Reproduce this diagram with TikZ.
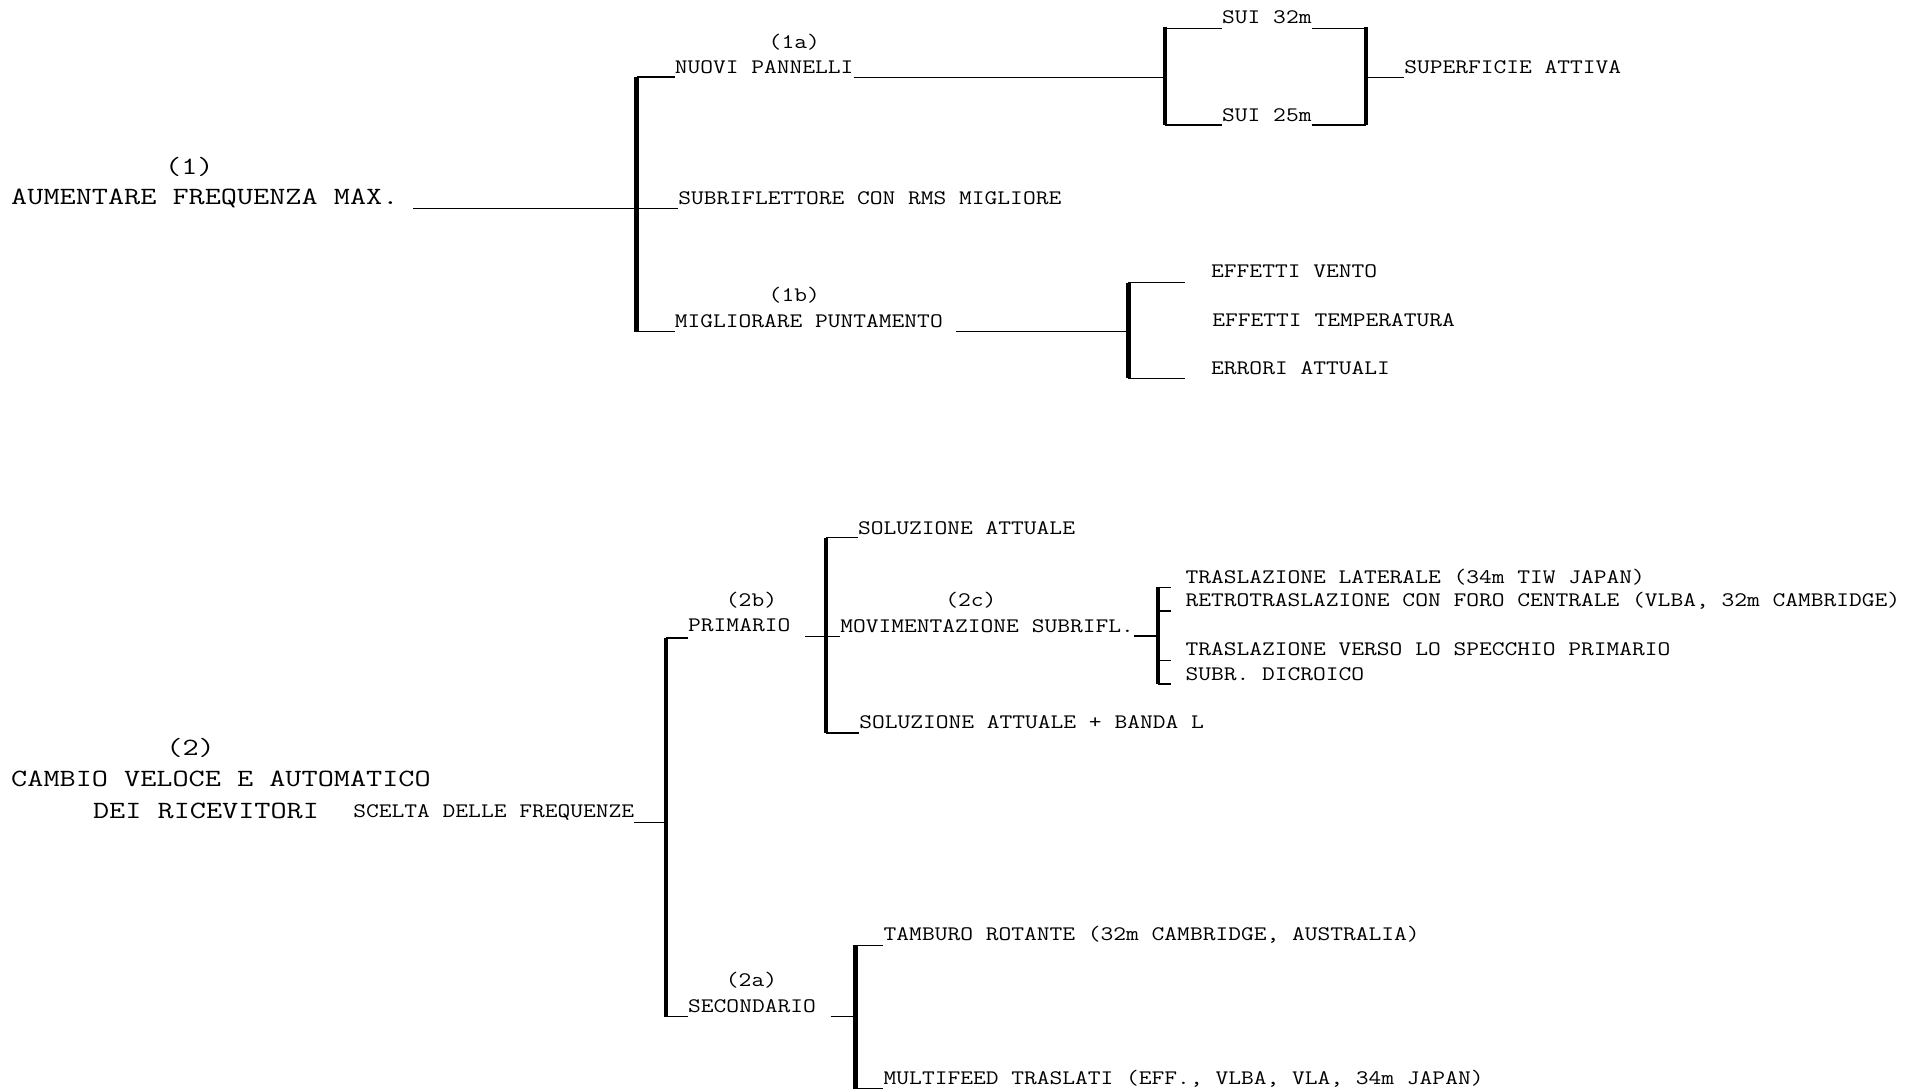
\documentclass[tikz,border=0pt]{standalone}
\usepackage{fontspec}
\newfontfamily\monoS[FakeStretch=1.200]{Latin Modern Mono}
\newfontfamily\monoB[FakeStretch=1.263]{Latin Modern Mono}
\tikzset{
  sm/.style={font=\monoS\fontsize{16.9}{20}\selectfont, inner sep=0pt, anchor=base west},
  bg/.style={font=\monoB\fontsize{20.3}{25}\selectfont, inner sep=0pt, anchor=base west},
  smlab/.style={sm, anchor=base},
  bglab/.style={bg, anchor=base},
  ln/.style={line width=1.1pt},
  barl/.style={line width=3.8pt}
}
\begin{document}
\begin{tikzpicture}[x=1pt,y=-1pt]
\useasboundingbox (0,0) rectangle (1568,893);
% ---------- part 1 ----------
\node[bglab] (l1) at (155,142.5) {(1)};
\node[bg] (t1) at (9,167.2) {AUMENTARE FREQUENZA MAX.};
\node[smlab] (l1a) at (650,40) {(1a)};
\node[sm] (nuovi) at (552,60) {NUOVI PANNELLI};
\node[sm] (subr) at (555,167.2) {SUBRIFLETTORE CON RMS MIGLIORE};
\node[smlab] (l1b) at (650,247) {(1b)};
\node[sm] (migl) at (552,267.8) {MIGLIORARE PUNTAMENTO};
\node[sm] (sui32) at (1000,19.5) {SUI 32m};
\node[sm] (sui25) at (1000,99.5) {SUI 25m};
\node[sm] (sup) at (1149,60) {SUPERFICIE ATTIVA};
\node[sm] (vento) at (991,226.9) {EFFETTI VENTO};
\node[sm] (temp) at (992,267.3) {EFFETTI TEMPERATURA};
\node[sm] (err) at (991,306.8) {ERRORI ATTUALI};

\coordinate (b1t) at (521,63);
\coordinate (b1m) at (521,170.5);
\coordinate (b1b) at (521,271.3);
\draw[barl] (b1t) -- (b1b);
\draw[ln] (b1t) -- (nuovi.west |- b1t);
\draw[ln] ([xshift=12pt]t1.east |- b1m) -- (subr.west |- b1m);
\draw[ln] (b1b) -- (migl.west |- b1b);

\coordinate (b2t) at (953.3,23.2);
\coordinate (b2m) at (953.3,63.3);
\coordinate (b2b) at (953.3,102.3);
\draw[barl] ([yshift=1.5pt]b2t) -- (b2b);
\coordinate (b3t) at (1118,23.2);
\coordinate (b3m) at (1118,63.3);
\coordinate (b3b) at (1118,102.3);
\draw[barl] ([yshift=1.5pt]b3t) -- (b3b);
\draw[ln] (nuovi.east |- b2m) -- (b2m);
\draw[ln] (b2t) -- (sui32.west |- b2t);
\draw[ln] (sui32.east |- b3t) -- (b3t);
\draw[ln] (b2b) -- (sui25.west |- b2b);
\draw[ln] (sui25.east |- b3b) -- (b3b);
\draw[ln] (b3m) -- (sup.west |- b3m);

\coordinate (b4t) at (923.4,231.3);
\coordinate (b4m) at (923.4,271.4);
\coordinate (b4b) at (923.4,309.6);
\draw[barl] (b4t) -- (b4b);
\draw[ln] ([xshift=11pt]migl.east |- b4m) -- (b4m);
\draw[ln] (b4t) -- ([xshift=-21pt]vento.west |- b4t);
\draw[ln] (b4b) -- ([xshift=-21pt]err.west |- b4b);

% ---------- part 2 ----------
\node[bglab] (l2) at (156,617.9) {(2)};
\node[bg] (t2a) at (9,643.7) {CAMBIO VELOCE E AUTOMATICO};
\node[bg] (t2b) at (76,669.7) {DEI RICEVITORI};
\node[sm] (scelta) at (289,669.4) {SCELTA DELLE FREQUENZE};

\coordinate (b5t) at (545,522);
\coordinate (b5m) at (545,673);
\coordinate (b5b) at (545,832);
\draw[barl] (b5t) -- (b5b);
\draw[ln] (scelta.east |- b5m) -- (b5m);
\node[sm] (prim) at (563,516.4) {PRIMARIO};
\node[smlab] (l2b) at (615,496) {(2b)};
\draw[ln] (b5t) -- (prim.west |- b5t);
\node[sm] (sec) at (563,828.4) {SECONDARIO};
\node[smlab] (l2a) at (615,807) {(2a)};
\draw[ln] (b5b) -- (sec.west |- b5b);

\coordinate (b6t) at (676,440);
\coordinate (b6m) at (676,521);
\coordinate (b6b) at (676,600);
\draw[barl] (b6t) -- (b6b);
\node[sm] (sol1) at (702,437.4) {SOLUZIONE ATTUALE};
\node[sm] (sol2) at (703,596.4) {SOLUZIONE ATTUALE + BANDA L};
\node[sm] (mov) at (687.5,517.7) {MOVIMENTAZIONE SUBRIFL.};
\node[smlab] (l2c) at (794.5,496) {(2c)};
\draw[ln] ([xshift=12pt]prim.east |- b6m) -- (mov.west |- b6m);
\draw[ln] (b6t) -- (sol1.west |- b6t);
\draw[ln] (b6b) -- (sol2.west |- b6b);

\coordinate (b7t) at (947.7,480.7);
\coordinate (b7u) at (947.7,500);
\coordinate (b7m) at (947.7,520.5);
\coordinate (b7l) at (947.7,540.4);
\coordinate (b7b) at (947.7,559.8);
\draw[barl] (b7t) -- (b7b);
\draw[ln] (mov.east |- b7m) -- (b7m);
\foreach \c in {b7t,b7u,b7l,b7b} \draw[ln] (\c) -- ++(11,0);
\node[sm] (tl) at (970,477.9) {TRASLAZIONE LATERALE (34m TIW JAPAN)};
\node[sm] (rt) at (970,496.4) {RETROTRASLAZIONE CON FORO CENTRALE (VLBA, 32m CAMBRIDGE)};
\node[sm] (tv) at (970,536.4) {TRASLAZIONE VERSO LO SPECCHIO PRIMARIO};
\node[sm] (sd) at (970,556.6) {SUBR. DICROICO};

\coordinate (b8t) at (700,773.6);
\coordinate (b8m) at (700,832);
\coordinate (b8b) at (700,891);
\draw[barl] (b8t) -- (b8b);
\draw[ln] ([xshift=12pt]sec.east |- b8m) -- (b8m);
\node[sm] (tamb) at (723,769.4) {TAMBURO ROTANTE (32m CAMBRIDGE, AUSTRALIA)};
\node[sm] (multi) at (723,887.2) {MULTIFEED TRASLATI (EFF., VLBA, VLA, 34m JAPAN)};
\draw[ln] (b8t) -- (tamb.west |- b8t);
\draw[ln] (b8b) -- (multi.west |- b8b);
\end{tikzpicture}
\end{document}
